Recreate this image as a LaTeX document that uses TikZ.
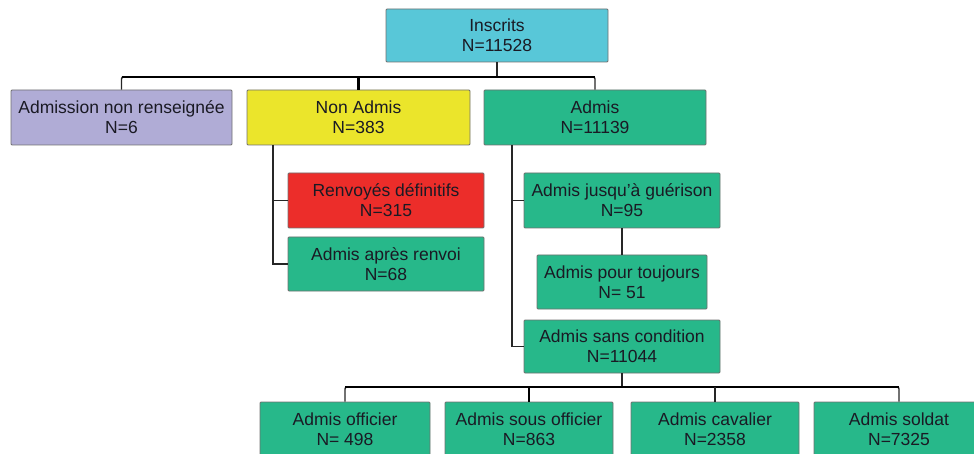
\documentclass[tikz,border=0pt]{standalone}
\usepackage{fontspec}
\setmainfont{Liberation Sans}
\definecolor{cCyan}{HTML}{58C7D8}
\definecolor{cLav}{HTML}{B0ACD6}
\definecolor{cYel}{HTML}{EBE52B}
\definecolor{cRed}{HTML}{EC2D2A}
\definecolor{cGrn}{HTML}{27B88A}
\definecolor{cBord}{HTML}{707070}
\definecolor{cTxt}{HTML}{1A1A24}
\tikzset{
  box/.style={draw=cBord, line width=0.9pt, rounded corners=1pt, align=center,
    inner sep=0pt, text=cTxt, font=\fontsize{17.5}{20}\selectfont},
  drop/.style={draw=black!85, line width=1.4pt},
  busline/.style={draw=black, line width=2.6pt},
}
\begin{document}
\begin{tikzpicture}[x=1pt,y=-1pt]
\useasboundingbox (0,0) rectangle (974,454);
\begin{scope}
\clip (0,0) rectangle (974,454);
% row 0
\node[box, fill=cCyan, minimum width=222pt, minimum height=53pt] (ins) at (497,35.5) {Inscrits\\N=11528};
% row 1
\node[box, fill=cLav, minimum width=221pt, minimum height=55pt] (anr) at (121.5,117.5) {Admission non renseignée\\N=6};
\node[box, fill=cYel, minimum width=223pt, minimum height=55pt] (nonad) at (358.5,117.5) {Non Admis\\N=383};
\node[box, fill=cGrn, minimum width=222pt, minimum height=55pt] (admis) at (595,117.5) {Admis\\N=11139};
% non admis children
\node[box, fill=cRed, minimum width=196pt, minimum height=55pt] (renv) at (386,200.5) {Renvoyés définitifs\\N=315};
\node[box, fill=cGrn, minimum width=196pt, minimum height=54pt] (apres) at (386,264) {Admis après renvoi\\N=68};
% admis children
\node[box, fill=cGrn, minimum width=196pt, minimum height=55pt] (jusq) at (622,200.5) {Admis jusqu'à guérison\\N=95};
\node[box, fill=cGrn, minimum width=170pt, minimum height=54pt] (touj) at (622,282) {Admis pour toujours\\N= 51};
\node[box, fill=cGrn, minimum width=196pt, minimum height=53pt] (sans) at (622,346.5) {Admis sans condition\\N=11044};
% bottom row
\node[box, fill=cGrn, minimum width=170pt, minimum height=54pt] (off) at (345,429) {Admis officier\\N= 498};
\node[box, fill=cGrn, minimum width=168pt, minimum height=54pt] (sous) at (529,429) {Admis sous officier\\N=863};
\node[box, fill=cGrn, minimum width=168pt, minimum height=54pt] (cav) at (715,429) {Admis cavalier\\N=2358};
\node[box, fill=cGrn, minimum width=170pt, minimum height=54pt] (sold) at (899,429) {Admis soldat\\N=7325};

% bus 1
\coordinate (b1) at (497,77);
\draw[drop] (ins.south) -- (b1);
\draw[drop, rounded corners=2pt] (anr.north) -- (anr.north |- b1) -- (admis.north |- b1) -- (admis.north);
\draw[busline] (anr.north |- b1) -- (admis.north |- b1);
\draw[busline] (nonad.north) -- (nonad.north |- b1);

% non admis tree
\coordinate (na) at (273,145);
\draw[drop] (na) |- (apres.west);
\draw[drop] (na |- renv.west) -- (renv.west);

% admis tree
\coordinate (ad) at (512,145);
\draw[drop] (ad) |- (sans.west);
\draw[drop] (ad |- jusq.west) -- (jusq.west);
\draw[drop] (jusq.south) -- (touj.north);

% bus 2
\coordinate (b2) at (622,387);
\draw[drop] (sans.south) -- (b2);
\draw[drop, rounded corners=2pt] (off.north) -- (off.north |- b2) -- (sold.north |- b2) -- (sold.north);
\draw[busline] (off.north |- b2) -- (sold.north |- b2);
\draw[busline] (sous.north) -- (sous.north |- b2);
\draw[drop] (cav.north) -- (cav.north |- b2);
\end{scope}
\end{tikzpicture}
\end{document}
